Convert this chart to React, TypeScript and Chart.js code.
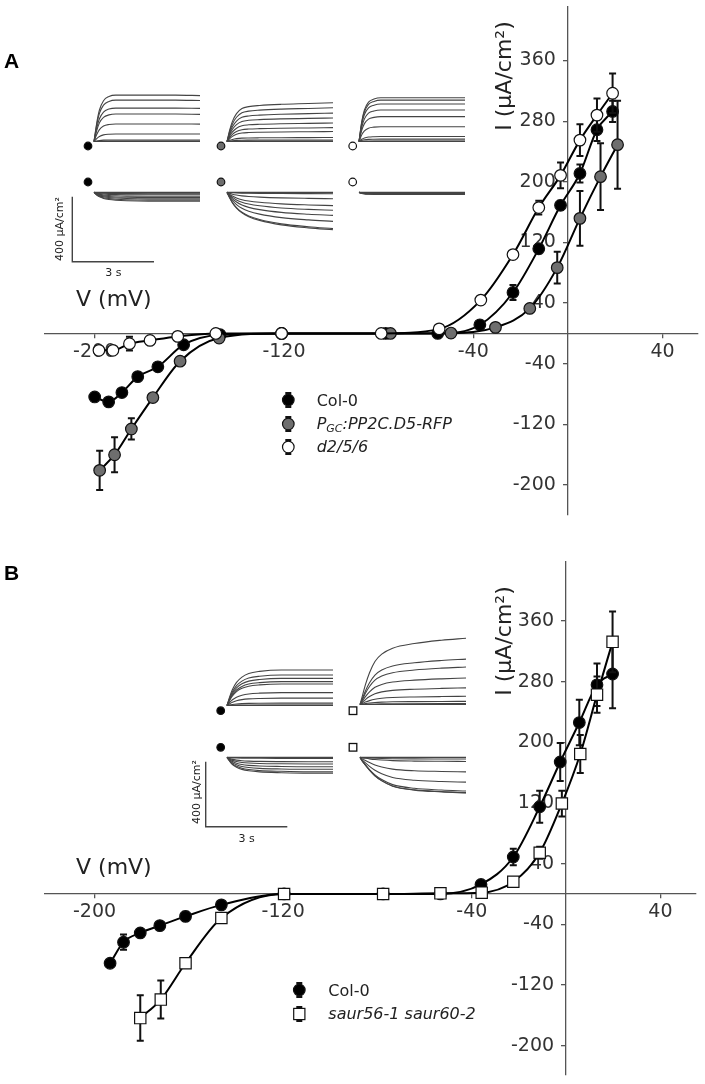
import React, { useEffect, useRef } from 'react';
import { Chart, registerables } from 'chart.js';
Chart.register(...registerables);

// ---------------- Panel A data (V in mV, I in µA/cm², SEM) ----------------
const A_COL_V = [-200, -194.1, -188.5, -181.8, -173.3, -162.4, -147, -121, -77, -55, -37.2, -23.2, -12.3, -3.1, 5.1, 12.3, 18.9];
const A_COL_I = [-83.8, -90.3, -78, -57, -44, -14.9, -1.7, 0, 0, 0, 11.4, 54, 111.7, 169, 211, 268.7, 292.8];
const A_COL_SEM = [3, 3, 3, 3, 3, 3, 0, 0, 0, 0, 3, 10, 6, 6, 12, 15, 14];

const A_D5_V = [-197.9, -191.6, -184.5, -175.4, -163.9, -147.4, -121, -75, -49.4, -30.6, -16.1, -4.5, 5.1, 13.8, 21];
const A_D5_I = [-180.6, -160, -126, -84.6, -36.6, -6, 0, 0, 0.5, 8, 33, 86.8, 151.8, 206.8, 249];
const A_D5_SEM = [26, 23, 14, 4, 3, 3, 0, 0, 0, 2, 3, 21, 36, 44, 58];

const A_D256_V = [-198.2, -192.3, -185.3, -176.6, -164.9, -148.8, -121, -78.9, -54.4, -36.8, -23.2, -12.3, -3.1, 5.1, 12.3, 18.9];
const A_D256_I = [-22.3, -22.3, -13.5, -9.2, -3.9, 0, 0, 0, 6, 44, 104, 166, 208.5, 255, 288, 316.8];
const A_D256_SEM = [2, 2, 9, 2, 2, 0, 0, 0, 0, 3, 3, 9, 17, 21, 22, 26];

// ---------------- Panel B data ----------------
const B_COL_V = [-193.4, -187.7, -180.6, -172.3, -161.4, -146.2, -119.6, -77.6, -53.3, -36.1, -22.4, -11.2, -2.5, 5.6, 13.1, 19.7];
const B_COL_I = [-91.4, -63.6, -51.4, -41.8, -29.6, -14.4, 0, 0, 0, 12.5, 48.7, 114.9, 174, 226, 275.8, 290];
const B_COL_SEM = [3, 10, 3, 4, 6, 3, 0, 0, 0, 3, 11, 21, 25, 30, 28, 45];

const B_SAUR_V = [-180.6, -171.9, -161.4, -146.2, -119.6, -77.6, -53.3, -35.8, -22.4, -11.2, -1.8, 6, 13.1, 19.7];
const B_SAUR_I = [-163.7, -139.3, -91.4, -31.8, 0, 0, 0.8, 1.7, 16, 54.3, 119.2, 184.5, 262.8, 332.4];
const B_SAUR_SEM = [30, 25, 5, 3, 0, 0, 0, 0, 3, 8, 17, 25, 24, 40];

// ---------------- Axis ticks ----------------
const X_TICKS = [-200, -120, -40, 40];
const Y_TICKS = [-200, -120, -40, 40, 120, 200, 280, 360];

// ---------------- Inset current traces (time in s, current in µA/cm²) ----------------
const TRACE_T = [0, 0.1, 0.2, 0.35, 0.55, 0.8, 1.2, 2, 3, 3.9];

const A1_UP_LEVELS = [287, 256, 207, 170, 109, 47, 10, 3, 1, 0];
const A1_UP_PROFILE = [0, 0.4, 0.68, 0.88, 0.97, 1, 1, 1, 1, 0.99];
const A1_DN_LEVELS = [-55, -48, -40, -32, -24, -15, -8, -3, 0];
const A1_DN_PROFILE = [0, 0.3, 0.5, 0.68, 0.8, 0.88, 0.95, 1, 1, 1];

const A2_UP_LEVELS = [240, 209, 176, 146, 115, 86, 62, 25, 10, 3, 1, 0];
const A2_UP_PROFILE = [0, 0.3, 0.52, 0.72, 0.85, 0.9, 0.93, 0.96, 0.98, 1];
const A2_DN_LEVELS = [-232, -225, -180, -143, -111, -82, -39, -8, -2, 0];
const A2_DN_PROFILE = [0, 0.15, 0.28, 0.42, 0.55, 0.65, 0.75, 0.87, 0.95, 1];

const A3_UP_LEVELS = [271, 256, 232, 195, 154, 92, 31, 15, 4, 1, 0];
const A3_UP_PROFILE = [0, 0.45, 0.72, 0.9, 0.97, 1, 1, 1, 1, 1];
const A3_DN_LEVELS = [-12, -10, -9, -7, -5, -3, -1, 0];
const A3_DN_PROFILE = [0, 0.5, 0.8, 0.95, 1, 1, 1, 1, 1, 1];

const B1_UP_LEVELS = [220, 189, 168, 148, 133, 80, 46, 15, 4, 1, 0];
const B1_UP_PROFILE = [0, 0.25, 0.45, 0.65, 0.8, 0.9, 0.96, 1, 1, 1];
const B1_DN_LEVELS = [-98, -89, -74, -58, -41, -27, -6, 0];
const B1_DN_PROFILE = [0, 0.25, 0.45, 0.62, 0.76, 0.85, 0.92, 0.97, 1, 1];

const B2_UP_LEVELS = [410, 281, 232, 164, 103, 51, 20, 6, 1, 0];
const B2_UP_PROFILE = [0, 0.15, 0.3, 0.48, 0.65, 0.76, 0.85, 0.92, 0.97, 1];
const B2_DN_LEVELS = [-221, -219, -209, -154, -90, -25, -10, 0];
const B2_DN_PROFILE = [0, 0.12, 0.22, 0.36, 0.52, 0.66, 0.81, 0.92, 0.97, 1];

// ---------------- styling ----------------
const FONT = "'DejaVu Sans', Verdana, sans-serif";
const AXIS = '#555';
const GRAY = '#6e6e6e';
const PX_PER_S = 27.3;
const PX_PER_UA = 65 / 400;

const errorBarPlugin = {
  id: 'errbars',
  beforeDatasetDraw(chart: any, args: any) {
    const ds = chart.data.datasets[args.index];
    if (!ds.errors) return;
    const xs = chart.scales.x;
    const ys = chart.scales.y;
    const ctx = chart.ctx;
    ctx.save();
    ctx.strokeStyle = '#111';
    ctx.lineWidth = 2;
    ds.data.forEach((p: any, k: number) => {
      const e = ds.errors[k];
      if (!e) return;
      const px = xs.getPixelForValue(p.x);
      const y1 = ys.getPixelForValue(p.y + e);
      const y2 = ys.getPixelForValue(p.y - e);
      ctx.beginPath();
      ctx.moveTo(px, y1); ctx.lineTo(px, y2);
      ctx.moveTo(px - 3.5, y1); ctx.lineTo(px + 3.5, y1);
      ctx.moveTo(px - 3.5, y2); ctx.lineTo(px + 3.5, y2);
      ctx.stroke();
    });
    ctx.restore();
  },
};

// y labels of an axis placed at x = 0 sit right against the axis line: move them left of the ticks
const yLabelShift = {
  id: 'ylabelshift',
  beforeDraw(chart: any) {
    const s = chart.scales.y;
    if (!s || !s.getLabelItems) return;
    const items = s.getLabelItems(chart.chartArea);
    if (items && !items._shifted) {
      items.forEach((it: any) => {
        if (it.options && it.options.translation) it.options.translation[0] -= 12;
      });
      items._shifted = true;
    }
  },
};

const zeroPad = (s: any) => {
  s.paddingLeft = 0; s.paddingRight = 0; s.paddingTop = 0; s.paddingBottom = 0;
};

function buildMain(canvas: HTMLCanvasElement, series: any[], yMin: number, yMax: number, pad: any) {
  const datasets = series.map((s) => ({
    label: s.label,
    data: s.v.map((v: number, k: number) => ({ x: v, y: s.i[k] })),
    errors: s.sem,
    showLine: true,
    borderColor: '#000',
    borderWidth: 2,
    cubicInterpolationMode: 'monotone',
    pointStyle: s.shape,
    pointRadius: s.r,
    pointBackgroundColor: s.fill,
    pointBorderColor: '#111',
    pointBorderWidth: 1.2,
    order: s.order,
    clip: false,
  }));
  const tickFont = { family: FONT, size: 19 };
  return new Chart(canvas, {
    type: 'scatter',
    data: { datasets } as any,
    plugins: [errorBarPlugin, yLabelShift],
    options: {
      responsive: false,
      animation: false,
      events: [],
      layout: { padding: pad },
      plugins: { legend: { display: false }, tooltip: { enabled: false } },
      scales: {
        x: {
          type: 'linear', min: -221, max: 55, position: { y: 0 } as any,
          afterBuildTicks: (s: any) => { s.ticks = X_TICKS.map((value) => ({ value })); },
          afterFit: zeroPad,
          ticks: { autoSkip: false, maxRotation: 0, font: tickFont, color: '#333', padding: 3, callback: (v: any) => String(v) },
          grid: { drawOnChartArea: false, drawTicks: true, tickLength: 4, color: AXIS, lineWidth: 1.3 },
          border: { display: true, color: AXIS, width: 1.3 },
        },
        y: {
          type: 'linear', min: yMin, max: yMax, position: { x: 0 } as any,
          afterBuildTicks: (s: any) => { s.ticks = Y_TICKS.map((value) => ({ value })); },
          afterFit: zeroPad,
          ticks: { autoSkip: false, font: tickFont, color: '#333', padding: 6, callback: (v: any) => String(v) },
          grid: { drawOnChartArea: false, drawTicks: true, tickLength: 4, color: AXIS, lineWidth: 1.3 },
          border: { display: true, color: AXIS, width: 1.3 },
        },
      },
    } as any,
  });
}

function MainChart({ series, top, height, yMin, yMax, pad }: any) {
  const ref = useRef<HTMLCanvasElement>(null);
  useEffect(() => {
    const c = buildMain(ref.current as HTMLCanvasElement, series, yMin, yMax, pad);
    return () => c.destroy();
  }, []);
  return <canvas ref={ref} width={705} height={height} style={{ position: 'absolute', left: 0, top }} />;
}

function Traces({ levels, profile, x0, base, up }: any) {
  const ref = useRef<HTMLCanvasElement>(null);
  const yMin = up ? -15 : -240;
  const yMax = up ? 430 : 15;
  const pad = 2;
  const w = TRACE_T[TRACE_T.length - 1] * PX_PER_S;
  const h = (yMax - yMin) * PX_PER_UA;
  useEffect(() => {
    const datasets = levels.map((L: number) => ({
      data: TRACE_T.map((t, k) => ({ x: t, y: L * profile[k] })),
      showLine: true,
      borderColor: '#444',
      borderWidth: 1.1,
      pointRadius: 0,
      cubicInterpolationMode: 'monotone',
      clip: false,
    }));
    const c = new Chart(ref.current as HTMLCanvasElement, {
      type: 'scatter',
      data: { datasets } as any,
      options: {
        responsive: false, animation: false, events: [],
        layout: { padding: pad },
        plugins: { legend: { display: false }, tooltip: { enabled: false } },
        scales: {
          x: { type: 'linear', display: false, min: 0, max: TRACE_T[TRACE_T.length - 1] },
          y: { type: 'linear', display: false, min: yMin, max: yMax },
        },
      } as any,
    });
    return () => c.destroy();
  }, []);
  return (
    <canvas ref={ref} width={Math.round(w + 2 * pad)} height={Math.round(h + 2 * pad)}
      style={{ position: 'absolute', left: x0 - pad, top: base - yMax * PX_PER_UA - pad }} />
  );
}

function Txt({ x, y, size, children, weight, italic, anchor, family, color }: any) {
  const top = y - 0.846 * size;
  return (
    <div style={{
      position: 'absolute', left: x, top, fontSize: size, lineHeight: 1, whiteSpace: 'nowrap',
      fontFamily: family || FONT, fontWeight: weight || 'normal', fontStyle: italic ? 'italic' : 'normal',
      color: color || '#222', transform: anchor === 'middle' ? 'translateX(-50%)' : undefined,
    }}>{children}</div>
  );
}

function VTxt({ cx, cy, size, children }: any) {
  return (
    <div style={{
      position: 'absolute', left: cx, top: cy, fontSize: size, lineHeight: 1, whiteSpace: 'nowrap',
      fontFamily: FONT, color: '#222', transform: 'translate(-50%, -50%) rotate(-90deg)',
    }}>{children}</div>
  );
}

function LegendMark({ x, y, fill, shape }: any) {
  return (
    <g>
      <line x1={x} y1={y - 7} x2={x} y2={y + 7} stroke="#111" strokeWidth={2} />
      <line x1={x - 3} y1={y - 7} x2={x + 3} y2={y - 7} stroke="#111" strokeWidth={2} />
      <line x1={x - 3} y1={y + 7} x2={x + 3} y2={y + 7} stroke="#111" strokeWidth={2} />
      {shape === 'rect'
        ? <rect x={x - 5.6} y={y - 5.6} width={11.2} height={11.2} fill={fill} stroke="#111" strokeWidth={1.2} />
        : <circle cx={x} cy={y} r={5.8} fill={fill} stroke="#111" strokeWidth={1.2} />}
    </g>
  );
}

function Sym({ x, y, fill, shape }: any) {
  return shape === 'rect'
    ? <rect x={x - 3.8} y={y - 3.8} width={7.6} height={7.6} fill={fill} stroke="#111" strokeWidth={1.3} />
    : <circle cx={x} cy={y} r={3.8} fill={fill} stroke="#111" strokeWidth={1.2} />;
}

const SERIES_A = [
  { label: 'Col-0', v: A_COL_V, i: A_COL_I, sem: A_COL_SEM, fill: '#000', shape: 'circle', r: 5.8, order: 2 },
  { label: 'PGC:PP2C.D5-RFP', v: A_D5_V, i: A_D5_I, sem: A_D5_SEM, fill: GRAY, shape: 'circle', r: 5.8, order: 1 },
  { label: 'd2/5/6', v: A_D256_V, i: A_D256_I, sem: A_D256_SEM, fill: '#fff', shape: 'circle', r: 5.8, order: 0 },
];
const SERIES_B = [
  { label: 'Col-0', v: B_COL_V, i: B_COL_I, sem: B_COL_SEM, fill: '#000', shape: 'circle', r: 5.8, order: 1 },
  { label: 'saur56-1 saur60-2', v: B_SAUR_V, i: B_SAUR_I, sem: B_SAUR_SEM, fill: '#fff', shape: 'rect', r: 8, order: 0 },
];

export default function App() {
  return (
    <div style={{ position: 'absolute', left: 0, top: 0, width: 705, height: 1084, background: '#fff', overflow: 'hidden' }}>
      <MainChart series={SERIES_A} top={0} height={540} yMin={-239.5} yMax={430.6}
        pad={{ left: 45, right: 4.4, top: 3, bottom: 25 }} />
      <MainChart series={SERIES_B} top={540} height={544} yMin={-238.5} yMax={437.7}
        pad={{ left: 45, right: 4.4, top: 22, bottom: 4 }} />

      <Traces levels={A1_UP_LEVELS} profile={A1_UP_PROFILE} x0={94.3} base={141.7} up />
      <Traces levels={A1_DN_LEVELS} profile={A1_DN_PROFILE} x0={94.3} base={192.7} />
      <Traces levels={A2_UP_LEVELS} profile={A2_UP_PROFILE} x0={226.7} base={141.7} up />
      <Traces levels={A2_DN_LEVELS} profile={A2_DN_PROFILE} x0={226.7} base={192.7} />
      <Traces levels={A3_UP_LEVELS} profile={A3_UP_PROFILE} x0={359} base={141.7} up />
      <Traces levels={A3_DN_LEVELS} profile={A3_DN_PROFILE} x0={359} base={192.7} />
      <Traces levels={B1_UP_LEVELS} profile={B1_UP_PROFILE} x0={226.7} base={705.7} up />
      <Traces levels={B1_DN_LEVELS} profile={B1_DN_PROFILE} x0={226.7} base={757.3} />
      <Traces levels={B2_UP_LEVELS} profile={B2_UP_PROFILE} x0={360} base={705} up />
      <Traces levels={B2_DN_LEVELS} profile={B2_DN_PROFILE} x0={360} base={757.7} />

      <svg width={705} height={1084} style={{ position: 'absolute', left: 0, top: 0, pointerEvents: 'none' }}>
        {/* inset scale bars */}
        <polyline points="72.3,196.7 72.3,261.7 154,261.7" fill="none" stroke="#444" strokeWidth={1.4} />
        <polyline points="205.7,761.7 205.7,826.7 287.3,826.7" fill="none" stroke="#444" strokeWidth={1.4} />
        {/* inset genotype symbols */}
        <Sym x={88} y={146} fill="#000" />
        <Sym x={88} y={182} fill="#000" />
        <Sym x={221} y={146} fill={GRAY} />
        <Sym x={221} y={182} fill={GRAY} />
        <Sym x={352.7} y={146} fill="#fff" />
        <Sym x={352.7} y={182} fill="#fff" />
        <Sym x={220.7} y={710.7} fill="#000" />
        <Sym x={220.7} y={747.3} fill="#000" />
        <Sym x={353} y={710.7} fill="#fff" shape="rect" />
        <Sym x={353} y={747.3} fill="#fff" shape="rect" />
        {/* legend markers */}
        <LegendMark x={288.3} y={400} fill="#000" />
        <LegendMark x={288.3} y={424} fill={GRAY} />
        <LegendMark x={288.3} y={447} fill="#fff" />
        <LegendMark x={299.3} y={990} fill="#000" />
        <LegendMark x={299.3} y={1014} fill="#fff" shape="rect" />
      </svg>

      {/* panel letters */}
      <Txt x={4} y={68} size={21} weight="bold" color="#000" family="'Liberation Sans', Arial, sans-serif">A</Txt>
      <Txt x={4} y={580} size={21} weight="bold" color="#000" family="'Liberation Sans', Arial, sans-serif">B</Txt>

      {/* axis titles */}
      <Txt x={76} y={307} size={22}>V (mV)</Txt>
      <Txt x={76} y={875} size={22}>V (mV)</Txt>
      <VTxt cx={504} cy={76} size={22}>I (µA/cm²)</VTxt>
      <VTxt cx={504} cy={641} size={22}>I (µA/cm²)</VTxt>

      {/* inset scale labels */}
      <VTxt cx={59.2} cy={229} size={11}>400 µA/cm²</VTxt>
      <Txt x={113.3} y={276.7} size={11} anchor="middle">3 s</Txt>
      <VTxt cx={195.9} cy={791.7} size={11}>400 µA/cm²</VTxt>
      <Txt x={246.7} y={842.7} size={11} anchor="middle">3 s</Txt>

      {/* legends */}
      <Txt x={316.7} y={406.5} size={16}>Col-0</Txt>
      <Txt x={316.7} y={430} size={16} italic>P<span style={{ fontSize: 11, position: 'relative', top: 3 }}>GC</span>:PP2C.D5-RFP</Txt>
      <Txt x={316.7} y={453} size={16} italic>d2/5/6</Txt>
      <Txt x={328.3} y={996.5} size={16}>Col-0</Txt>
      <Txt x={328.3} y={1020} size={16} italic>saur56-1 saur60-2</Txt>
    </div>
  );
}
